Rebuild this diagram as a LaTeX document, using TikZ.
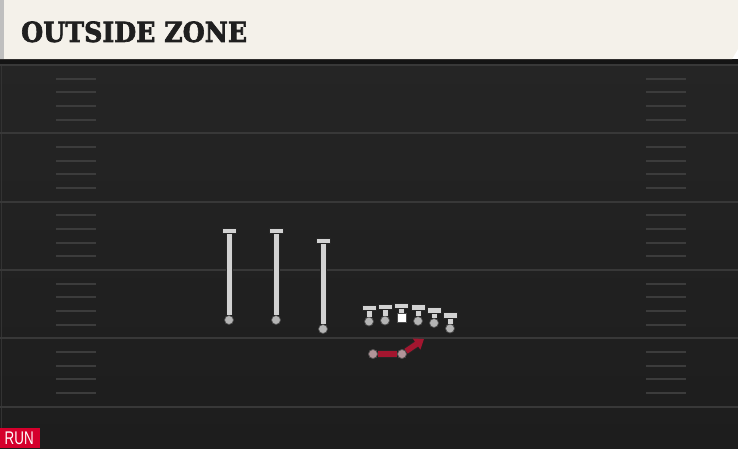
\documentclass[tikz,border=0pt]{standalone}
\usepackage{fontspec}
\usetikzlibrary{arrows.meta}
\newfontfamily\titlefont[FakeBold=2.5]{DejaVu Serif Bold}
\newfontfamily\tagfont{Liberation Sans}
\definecolor{cream}{HTML}{F4F1EA}
\definecolor{fieldtop}{HTML}{252525}
\definecolor{fieldbot}{HTML}{1D1D1D}
\definecolor{yardline}{HTML}{383838}
\definecolor{hashline}{HTML}{3C3C3C}
\definecolor{plgray}{HTML}{D2D2D2}
\definecolor{footgray}{HTML}{B4B4B4}
\definecolor{runred}{HTML}{A3162F}
\definecolor{tagred}{HTML}{D5002C}

\begin{document}
\begin{tikzpicture}[x=1pt,y=-1pt,
  stem/.style={draw=black!85,line width=1pt,double=plgray,double distance=5pt},
  tbar/.style={rectangle,draw=black!85,fill=plgray,line width=0.8pt,minimum width=14pt,minimum height=5.5pt,inner sep=0pt},
  foot/.style={circle,draw=black!70,fill=footgray,line width=0.7pt,minimum size=9pt,inner sep=0pt},
  snap/.style={rectangle,draw=black!70,fill=white,line width=0.7pt,minimum width=9pt,minimum height=9.5pt,inner sep=0pt}]

\useasboundingbox (0,0) rectangle (738,448);

% field
\shade[top color=fieldtop,bottom color=fieldbot] (0,59) rectangle (738,448);
\fill[black!92] (0,59) rectangle (738,64);
\draw[black!80,line width=1pt] (1.5,64)--(1.5,448);

\foreach \k in {0,5,...,25}
  \draw[yardline,line width=2pt] (0,65+13.667*\k)--(738,65+13.667*\k);
\foreach \k in {1,...,24}{
  \pgfmathtruncatemacro\r{mod(\k,5)}
  \ifnum\r>0
    \draw[hashline,line width=1.8pt] (56,65+13.667*\k)--(96,65+13.667*\k);
    \draw[hashline,line width=1.8pt] (646,65+13.667*\k)--(686,65+13.667*\k);
  \fi}

% header
\fill[cream] (0,0)--(738,0)--(738,49)--(732,59)--(0,59)--cycle;
\fill[black!25] (0,0) rectangle (4,59);
\node[anchor=south west,inner sep=0pt,text=black!88] (title) at (21,42.5)
  {\resizebox{226pt}{20.5pt}{\titlefont OUTSIDE ZONE}};

% defense
\foreach \n/\x/\yt/\yb in {d1/229/231/320,d2/276/231/320,d3/323/241/329}{
  \node[tbar] (\n t) at (\x,\yt) {};
  \node[foot] (\n b) at (\x,\yb) {};
  \draw[stem] (\n t)--(\n b);
}

% offensive line
\foreach \n/\x/\yt/\yb in {l1/369/308/321.5,l2/385/307/320.5,l4/418/307.5/321,l5/434/310.5/323,l6/450/315.5/328.5}{
  \node[tbar] (\n t) at (\x,\yt) {};
  \node[foot] (\n b) at (\x,\yb) {};
  \draw[stem] (\n t)--(\n b);
}
\node[tbar] (ct) at (401.5,306) {};
\node[snap] (cb) at (401.5,318) {};
\draw[stem] (ct)--(cb);

% back
\coordinate (tip) at (424,339);
\node[foot,fill=footgray!80!runred] (rb) at (373,354) {};
\node[foot,fill=footgray!80!runred] (mesh) at (402,354) {};
\draw[black!85,line width=7.2pt] (rb)--(mesh);
\draw[runred,line width=5.6pt] (rb)--(mesh);
\draw[black!85,line width=7.2pt,shorten >=7pt] (mesh)--(tip);
\draw[runred,line width=5.6pt,-{Triangle[length=9pt,width=13pt]}] (mesh)--(tip);
\node[foot,fill=footgray!80!runred] at (rb) {};
\node[foot,fill=footgray!80!runred] at (mesh) {};

% tag
\fill[tagred] (0,428) rectangle (40,448);
\node[anchor=south west,inner sep=0pt,text=white] (run) at (4.5,445)
  {\resizebox{29pt}{12.6pt}{\tagfont RUN}};

\end{tikzpicture}
\end{document}
